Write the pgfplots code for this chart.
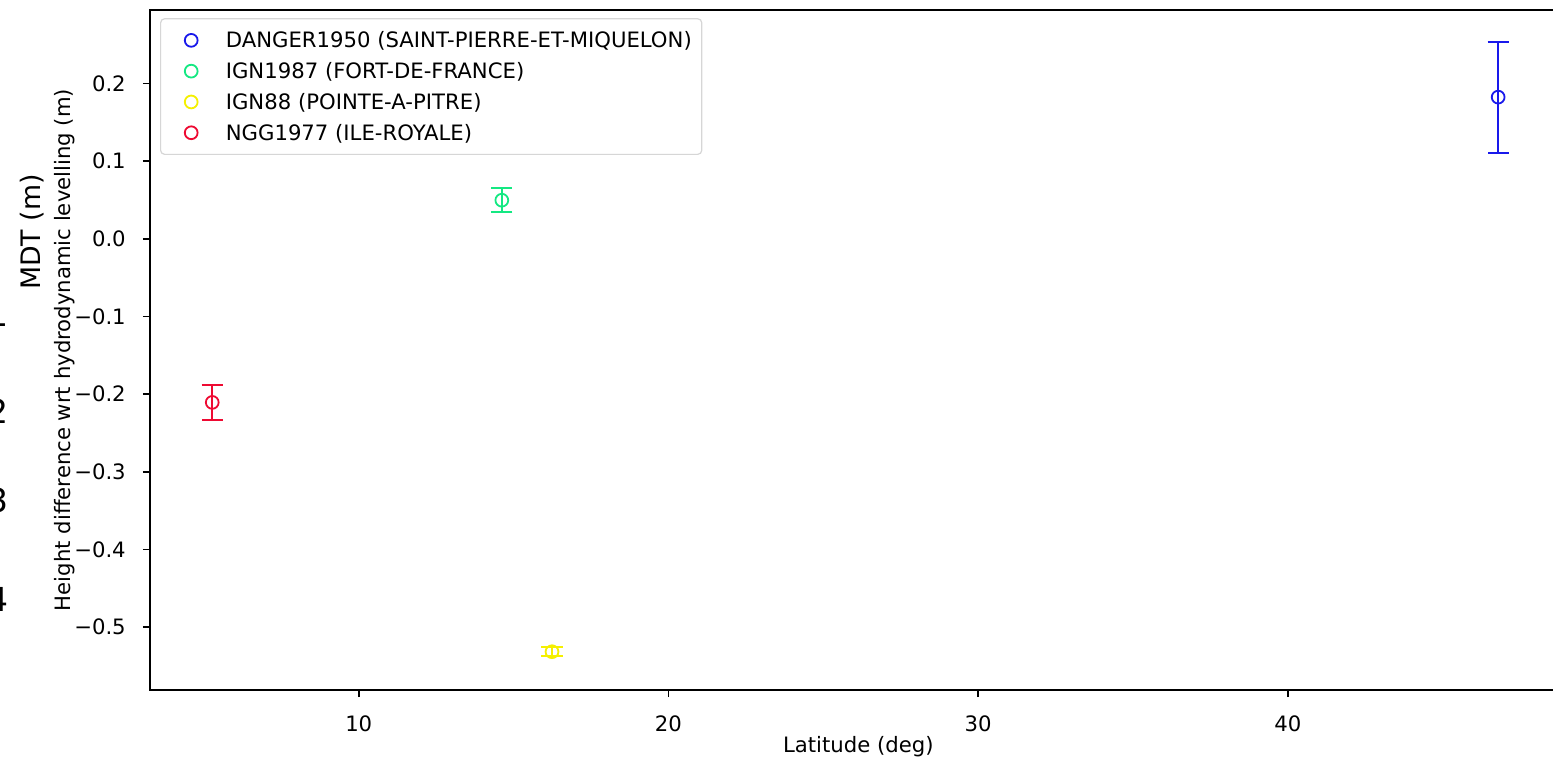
\documentclass[border=0pt]{standalone}
\usepackage{pgfplots}
\pgfplotsset{compat=1.18}
\usepackage{fontspec}
\setmainfont{DejaVu Sans}
\definecolor{cBlue}{RGB}{25,25,235}
\definecolor{cGreen}{RGB}{20,232,130}
\definecolor{cYellow}{RGB}{245,240,0}
\definecolor{cRed}{RGB}{238,10,50}
\definecolor{legframe}{RGB}{214,214,214}
\begin{document}
\begin{tikzpicture}[x=1pt,y=1pt,font=\fontsize{10.6}{12.7}\selectfont]
\useasboundingbox (0,0) rectangle (776.5,378.5);
\clip (0,0) rectangle (776.5,378.5);
\begin{axis}[
  scale only axis, width=708.3pt, height=340pt,
  at={(75pt,33.5pt)}, anchor=south west,
  xmin=3.26, xmax=49, ymin=-0.5808, ymax=0.2947,
  xtick={10,20,30,40},
  ytick={-0.5,-0.4,-0.3,-0.2,-0.1,0,0.1,0.2},
  yticklabels={−0.5,−0.4,−0.3,−0.2,−0.1,0.0,0.1,0.2},
  tick align=outside, tick pos=left, major tick length=3.6pt,
  every tick/.style={black, line width=0.8pt},
  axis line style={line width=0.8pt},
  /pgf/number format/assume math mode=true,
  tick label style={font=\fontsize{10.6}{12.7}\selectfont},
  xticklabel style={yshift=-5.5pt},
  yticklabel style={xshift=-5pt},
  label style={font=\fontsize{10.6}{12.7}\selectfont},
  xlabel={Latitude (deg)},
  ylabel={Height difference wrt hydrodynamic levelling (m)},
  every axis y label/.style={at={(axis description cs:-0.06,0.5)}, rotate=90, anchor=center},
  every axis x label/.style={at={(axis description cs:0.5,-0.0912)}, anchor=base},
  legend cell align=left,
  legend style={at={(axis description cs:0.00706,0.988)}, anchor=north west,
    draw=legframe, rounded corners=2pt, line width=0.6pt, fill=white,
    inner xsep=5pt, inner ysep=5pt, row sep=3.8pt,
    nodes={inner sep=0pt, text height=9.6pt, text depth=2pt},
    font=\fontsize{10.6}{12.7}\selectfont},
  legend image code/.code={\path (-10pt,0pt) (17pt,0pt); \draw[#1] plot coordinates {(0pt,0pt)};},
  error bars/error mark=|,
]
\addplot[only marks, mark=o, mark size=3.2pt, color=cBlue, mark options={line width=0.9pt, solid},
  error bars/.cd, y dir=both, y explicit, error mark=|,
  error mark options={mark size=5.3pt, line width=1pt, cBlue},
  error bar style={line width=1pt, cBlue}]
  coordinates {(46.79,0.1825) +- (0,0.0715)};
\addlegendentry{DANGER1950 (SAINT-PIERRE-ET-MIQUELON)}
\addplot[only marks, mark=o, mark size=3.2pt, color=cGreen, mark options={line width=0.9pt, solid},
  error bars/.cd, y dir=both, y explicit, error mark=|,
  error mark options={mark size=5.3pt, line width=1pt, cGreen},
  error bar style={line width=1pt, cGreen}]
  coordinates {(14.62,0.0498) +- (0,0.0155)};
\addlegendentry{IGN1987 (FORT-DE-FRANCE)}
\addplot[only marks, mark=o, mark size=3.2pt, color=cYellow, mark options={line width=0.9pt, solid},
  error bars/.cd, y dir=both, y explicit, error mark=|,
  error mark options={mark size=5.3pt, line width=1pt, cYellow},
  error bar style={line width=1pt, cYellow}]
  coordinates {(16.24,-0.5315) +- (0,0.006)};
\addlegendentry{IGN88 (POINTE-A-PITRE)}
\addplot[only marks, mark=o, mark size=3.2pt, color=cRed, mark options={line width=0.9pt, solid},
  error bars/.cd, y dir=both, y explicit, error mark=|,
  error mark options={mark size=5.3pt, line width=1pt, cRed},
  error bar style={line width=1pt, cRed}]
  coordinates {(5.27,-0.2105) +- (0,0.0225)};
\addlegendentry{NGG1977 (ILE-ROYALE)}
\end{axis}
\node[rotate=90, font=\fontsize{13.4}{16}\selectfont] at (16,262.5) {MDT (m)};
\node[anchor=east, inner sep=0pt, font=\fontsize{16.5}{19}\selectfont] at (4.5,221.5) {1};
\node[anchor=east, inner sep=0pt, font=\fontsize{16.5}{19}\selectfont] at (4.5,173) {2};
\node[anchor=east, inner sep=0pt, font=\fontsize{16.5}{19}\selectfont] at (4.5,128.5) {3};
\node[anchor=east, inner sep=0pt, font=\fontsize{16.5}{19}\selectfont] at (4.5,79) {4};
\end{tikzpicture}
\end{document}
